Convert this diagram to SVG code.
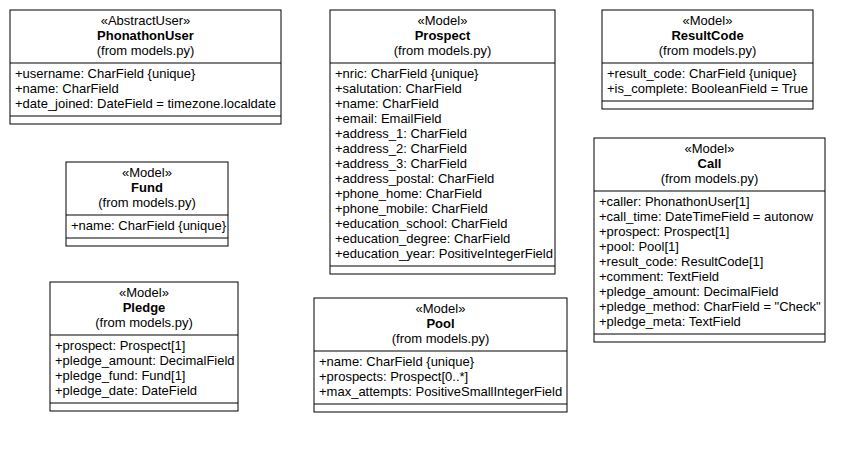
<svg xmlns="http://www.w3.org/2000/svg" width="865" height="453" viewBox="0 0 865 453">
<style>
.box{fill:#fff;stroke:#000;stroke-width:1}
.sep{stroke:#000;stroke-width:1}
text{font-family:"Liberation Sans",Arial,sans-serif;font-size:13px;fill:#000}
.c{text-anchor:middle}
.b{font-weight:bold}
</style>
<rect width="865" height="453" fill="#fff"/>
<g id="PhonathonUser">
<rect class="box" x="10" y="10" width="271" height="114"/>
<line class="sep" x1="10" y1="63" x2="281" y2="63"/>
<line class="sep" x1="10" y1="116" x2="281" y2="116"/>
<text class="c" x="145.5" y="24.5">«AbstractUser»</text>
<text class="c b" x="145.5" y="39.5">PhonathonUser</text>
<text class="c" x="145.5" y="54.5">(from models.py)</text>
<text x="15" y="77.5">+username: CharField {unique}</text>
<text x="15" y="92.5">+name: CharField</text>
<text x="15" y="107.5">+date_joined: DateField = timezone.localdate</text>
</g>
<g id="Prospect">
<rect class="box" x="330" y="10" width="225" height="264"/>
<line class="sep" x1="330" y1="63" x2="555" y2="63"/>
<line class="sep" x1="330" y1="266" x2="555" y2="266"/>
<text class="c" x="442.5" y="24.5">«Model»</text>
<text class="c b" x="442.5" y="39.5">Prospect</text>
<text class="c" x="442.5" y="54.5">(from models.py)</text>
<text x="335" y="77.5">+nric: CharField {unique}</text>
<text x="335" y="92.5">+salutation: CharField</text>
<text x="335" y="107.5">+name: CharField</text>
<text x="335" y="122.5">+email: EmailField</text>
<text x="335" y="137.5">+address_1: CharField</text>
<text x="335" y="152.5">+address_2: CharField</text>
<text x="335" y="167.5">+address_3: CharField</text>
<text x="335" y="182.5">+address_postal: CharField</text>
<text x="335" y="197.5">+phone_home: CharField</text>
<text x="335" y="212.5">+phone_mobile: CharField</text>
<text x="335" y="227.5">+education_school: CharField</text>
<text x="335" y="242.5">+education_degree: CharField</text>
<text x="335" y="257.5">+education_year: PositiveIntegerField</text>
</g>
<g id="ResultCode">
<rect class="box" x="602" y="10" width="211" height="99"/>
<line class="sep" x1="602" y1="63" x2="813" y2="63"/>
<line class="sep" x1="602" y1="101" x2="813" y2="101"/>
<text class="c" x="707.5" y="24.5">«Model»</text>
<text class="c b" x="707.5" y="39.5">ResultCode</text>
<text class="c" x="707.5" y="54.5">(from models.py)</text>
<text x="607" y="77.5">+result_code: CharField {unique}</text>
<text x="607" y="92.5">+is_complete: BooleanField = True</text>
</g>
<g id="Fund">
<rect class="box" x="66" y="162" width="162" height="84"/>
<line class="sep" x1="66" y1="215" x2="228" y2="215"/>
<line class="sep" x1="66" y1="238" x2="228" y2="238"/>
<text class="c" x="147" y="176.5">«Model»</text>
<text class="c b" x="147" y="191.5">Fund</text>
<text class="c" x="147" y="206.5">(from models.py)</text>
<text x="71" y="229.5">+name: CharField {unique}</text>
</g>
<g id="Call">
<rect class="box" x="594" y="138" width="231" height="204"/>
<line class="sep" x1="594" y1="191" x2="825" y2="191"/>
<line class="sep" x1="594" y1="334" x2="825" y2="334"/>
<text class="c" x="709.5" y="152.5">«Model»</text>
<text class="c b" x="709.5" y="167.5">Call</text>
<text class="c" x="709.5" y="182.5">(from models.py)</text>
<text x="599" y="205.5">+caller: PhonathonUser[1]</text>
<text x="599" y="220.5">+call_time: DateTimeField = autonow</text>
<text x="599" y="235.5">+prospect: Prospect[1]</text>
<text x="599" y="250.5">+pool: Pool[1]</text>
<text x="599" y="265.5">+result_code: ResultCode[1]</text>
<text x="599" y="280.5">+comment: TextField</text>
<text x="599" y="295.5">+pledge_amount: DecimalField</text>
<text x="599" y="310.5">+pledge_method: CharField = "Check"</text>
<text x="599" y="325.5">+pledge_meta: TextField</text>
</g>
<g id="Pledge">
<rect class="box" x="50" y="282" width="188" height="129"/>
<line class="sep" x1="50" y1="335" x2="238" y2="335"/>
<line class="sep" x1="50" y1="403" x2="238" y2="403"/>
<text class="c" x="144" y="296.5">«Model»</text>
<text class="c b" x="144" y="311.5">Pledge</text>
<text class="c" x="144" y="326.5">(from models.py)</text>
<text x="55" y="349.5">+prospect: Prospect[1]</text>
<text x="55" y="364.5">+pledge_amount: DecimalField</text>
<text x="55" y="379.5">+pledge_fund: Fund[1]</text>
<text x="55" y="394.5">+pledge_date: DateField</text>
</g>
<g id="Pool">
<rect class="box" x="314" y="298" width="253" height="114"/>
<line class="sep" x1="314" y1="351" x2="567" y2="351"/>
<line class="sep" x1="314" y1="404" x2="567" y2="404"/>
<text class="c" x="440.5" y="312.5">«Model»</text>
<text class="c b" x="440.5" y="327.5">Pool</text>
<text class="c" x="440.5" y="342.5">(from models.py)</text>
<text x="319" y="365.5">+name: CharField {unique}</text>
<text x="319" y="380.5">+prospects: Prospect[0..*]</text>
<text x="319" y="395.5">+max_attempts: PositiveSmallIntegerField</text>
</g>
<g id="connectors"></g>
</svg>
